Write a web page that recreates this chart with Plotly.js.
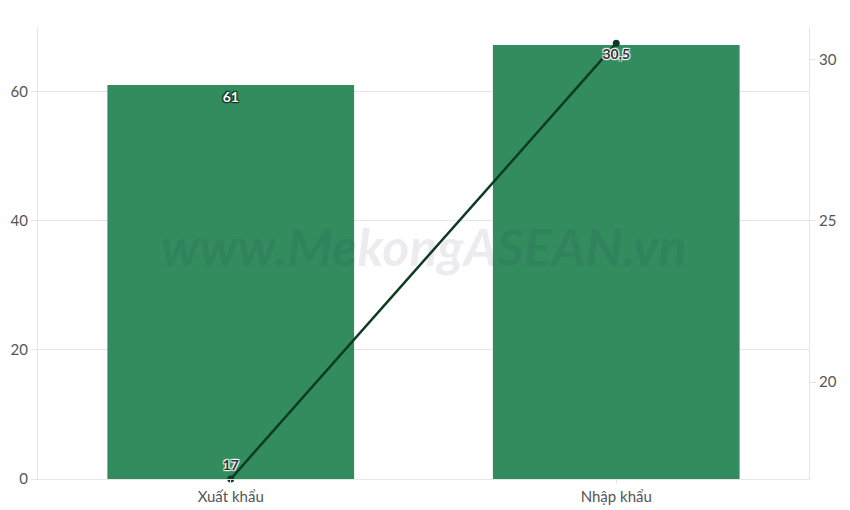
<!DOCTYPE html>
<html>
<head>
<meta charset="utf-8">
<script src="https://cdn.plot.ly/plotly-3.0.1.min.js"></script>
<style>
  html, body { margin: 0; padding: 0; background: #fff; }
  #chart { width: 850px; height: 510px; }
</style>
</head>
<body>
<div id="chart"></div>
<script>
  // Dữ liệu
  var categories = ['Xuất khẩu', 'Nhập khẩu'];
  var barValues = [61, 67.2];
  var barLabels = ['61', ''];
  var lineValues = [17, 30.5];
  var lineLabels = ['17', '30,5'];

  var bars = {
    type: 'bar',
    x: categories,
    y: barValues,
    text: barLabels,
    textposition: 'inside',
    insidetextanchor: 'end',
    textfont: { family: 'Lato, sans-serif', size: 14, color: '#ffffff', weight: 'bold',
                shadow: '1px 1px 1px #0b3320, -1px -1px 1px #0b3320, 1px -1px 1px #0b3320, -1px 1px 1px #0b3320' },
    marker: { color: '#328c5e' },
    hoverinfo: 'x+y',
    cliponaxis: false
  };

  var line = {
    type: 'scatter',
    mode: 'lines+markers+text',
    x: categories,
    y: lineValues,
    yaxis: 'y2',
    text: lineLabels,
    textposition: ['top center', 'bottom center'],
    textfont: { family: 'Lato, sans-serif', size: 14, color: '#333333', weight: 'bold',
                shadow: '1px 1px 1px #fff, -1px -1px 1px #fff, 1px -1px 1px #fff, -1px 1px 1px #fff' },
    line: { color: '#0d3b22', width: 2.5 },
    marker: { color: '#0d3b22', size: 7 },
    cliponaxis: false
  };

  var layout = {
    width: 850,
    height: 510,
    margin: { l: 38, r: 41, t: 27, b: 31 },
    paper_bgcolor: '#ffffff',
    plot_bgcolor: '#ffffff',
    showlegend: false,
    separators: ',.',
    bargap: 0.36,
    font: { family: 'Lato, sans-serif', size: 14, color: '#555555' },
    xaxis: {
      showline: true, linecolor: '#e6e6e6', linewidth: 1,
      ticks: 'outside', tickcolor: '#e6e6e6', ticklen: 4,
      showgrid: false, tickfont: { size: 15, color: '#555' }
    },
    yaxis: {
      range: [0, 70],
      tickvals: [0, 20, 40, 60],
      showline: true, linecolor: '#e6e6e6', linewidth: 1,
      ticks: 'outside', tickcolor: '#e6e6e6', ticklen: 6,
      gridcolor: '#e6e6e6', zeroline: false,
      tickfont: { size: 15, color: '#555' }
    },
    yaxis2: {
      range: [17, 31],
      tickvals: [20, 25, 30],
      overlaying: 'y',
      side: 'right',
      showline: true, linecolor: '#e6e6e6', linewidth: 1,
      ticks: 'outside', tickcolor: '#e6e6e6', ticklen: 6,
      showgrid: false, zeroline: false,
      tickfont: { size: 15, color: '#555' }
    },
    annotations: [{
      text: '<b><i>www.MekongASEAN.vn</i></b>',
      xref: 'paper', yref: 'paper',
      x: 0.5, y: 0.515,
      showarrow: false,
      font: { family: 'Lato, sans-serif', size: 52, color: 'rgba(40,40,90,0.09)' }
    }]
  };

  Plotly.newPlot('chart', [bars, line], layout, { displayModeBar: false, staticPlot: true });
</script>
</body>
</html>
